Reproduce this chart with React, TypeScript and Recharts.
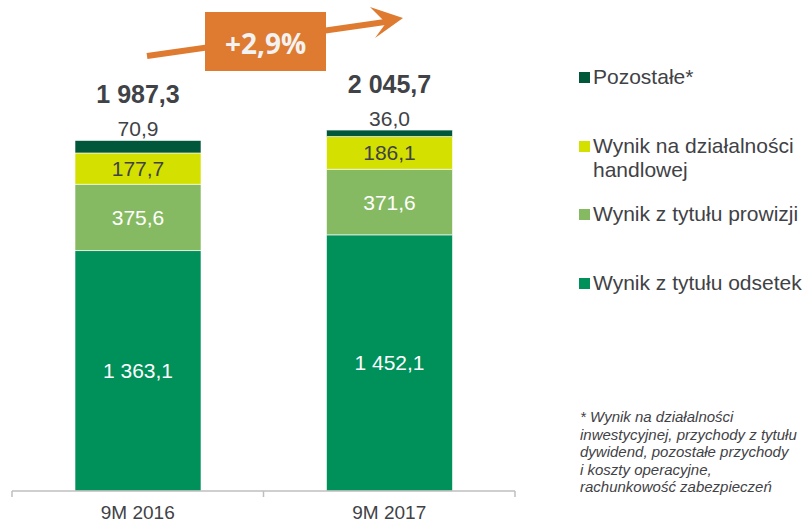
import React from "react";
import { BarChart, Bar, XAxis, YAxis, LabelList } from "recharts";

const categories = ["9M 2016", "9M 2017"];
const odsetek = [1363.1, 1452.1];
const prowizji = [375.6, 371.6];
const handlowej = [177.7, 186.1];
const pozostale = [70.9, 36.0];
const totals = [1987.3, 2045.7];
const changeLabel = "+2,9%";

const seriesNames = {
  odsetek: "Wynik z tytułu odsetek",
  prowizji: "Wynik z tytułu prowizji",
  handlowej: "Wynik na działalności handlowej",
  pozostale: "Pozostałe*",
};

const COLORS = {
  odsetek: "#00905A",
  prowizji: "#86BA62",
  handlowej: "#D4E000",
  pozostale: "#00573A",
};

const FONT = "'Liberation Sans', Arial, sans-serif";
const TEXT = "#3F4246";

const data = categories.map((c, i) => ({
  name: c,
  odsetek: odsetek[i],
  prowizji: prowizji[i],
  handlowej: handlowej[i],
  pozostale: pozostale[i],
  total: totals[i],
}));

const fmt = (v: number) => {
  const s = v.toFixed(1).replace(".", ",");
  const [intPart, dec] = s.split(",");
  const withSpaces = intPart.replace(/\B(?=(\d{3})+(?!\d))/g, " ");
  return withSpaces + "," + dec;
};

const insideLabel = (color: string) => (props: any) => {
  const { x, y, width, height, value } = props;
  return (
    <text
      x={x + width / 2}
      y={y + height / 2}
      textAnchor="middle"
      dominantBaseline="central"
      fill={color}
      fontSize={21}
      fontFamily={FONT}
    >
      {fmt(Number(value))}
    </text>
  );
};

const topLabel = (props: any) => {
  const { x, y, width, value, index } = props;
  const cx = x + width / 2;
  return (
    <g>
      <text
        x={cx}
        y={y - 12}
        textAnchor="middle"
        dominantBaseline="central"
        fill={TEXT}
        fontSize={21}
        fontFamily={FONT}
      >
        {fmt(Number(value))}
      </text>
      <text
        x={cx}
        y={y - 46}
        textAnchor="middle"
        dominantBaseline="central"
        fill={TEXT}
        fontSize={25}
        fontWeight="bold"
        fontFamily={FONT}
      >
        {fmt(totals[index])}
      </text>
    </g>
  );
};

const AxisTick = (props: any) => {
  const { x, y, payload, index } = props;
  const half = payload && payload.offset ? payload.offset : 125.75;
  const lineY = y - 8;
  return (
    <g>
      <line x1={x - half} x2={x - half} y1={lineY} y2={lineY + 6} stroke="#BFBFBF" strokeWidth={1.5} />
      {index === categories.length - 1 && (
        <line x1={x + half} x2={x + half} y1={lineY} y2={lineY + 6} stroke="#BFBFBF" strokeWidth={1.5} />
      )}
      <text
        x={x}
        y={y + 13}
        textAnchor="middle"
        dominantBaseline="central"
        fill={TEXT}
        fontSize={19}
        fontFamily={FONT}
      >
        {payload.value}
      </text>
    </g>
  );
};

const legendItems = [
  { key: "pozostale", lines: [seriesNames.pozostale], center: 77 },
  { key: "handlowej", lines: ["Wynik na działalności", "handlowej"], center: 146 },
  { key: "prowizji", lines: [seriesNames.prowizji], center: 214 },
  { key: "odsetek", lines: [seriesNames.odsetek], center: 283 },
];

export default function App() {
  return (
    <div style={{ position: "absolute", left: 0, top: 0, width: 810, height: 521, background: "#fff" }}>
      <BarChart
        width={810}
        height={521}
        data={data}
        margin={{ top: 50, right: 295, bottom: 0, left: 12 }}
        barSize={126}
      >
        <XAxis
          dataKey="name"
          axisLine={{ stroke: "#BFBFBF", strokeWidth: 1.5 }}
          tickLine={false}
          height={30}
          tick={<AxisTick />}
          interval={0}
        />
        <YAxis hide domain={[0, 2500]} />
        <Bar dataKey="odsetek" name={seriesNames.odsetek} stackId="a" fill={COLORS.odsetek} stroke="#ffffff" strokeWidth={0.6} isAnimationActive={false}>
          <LabelList dataKey="odsetek" content={insideLabel("#ffffff")} />
        </Bar>
        <Bar dataKey="prowizji" name={seriesNames.prowizji} stackId="a" fill={COLORS.prowizji} stroke="#ffffff" strokeWidth={0.6} isAnimationActive={false}>
          <LabelList dataKey="prowizji" content={insideLabel("#ffffff")} />
        </Bar>
        <Bar dataKey="handlowej" name={seriesNames.handlowej} stackId="a" fill={COLORS.handlowej} stroke="#ffffff" strokeWidth={0.6} isAnimationActive={false}>
          <LabelList dataKey="handlowej" content={insideLabel(TEXT)} />
        </Bar>
        <Bar dataKey="pozostale" name={seriesNames.pozostale} stackId="a" fill={COLORS.pozostale} stroke="#ffffff" strokeWidth={0.6} isAnimationActive={false}>
          <LabelList dataKey="pozostale" content={topLabel} />
        </Bar>
      </BarChart>

      <svg width={810} height={90} style={{ position: "absolute", left: 0, top: 0, pointerEvents: "none" }}>
        <line x1={147} y1={56} x2={392} y2={21} stroke="#DE7B30" strokeWidth={6} />
        <polygon points="403,18 370,7 386,23 375,38" fill="#DE7B30" />
        <rect x={205} y={12} width={121} height={59} fill="#DE7B30" />
        <text
          x={265.5}
          y={43}
          textAnchor="middle"
          dominantBaseline="central"
          fill="#F2F2F2"
          fontSize={28}
          fontWeight="bold"
          fontFamily="'Open Sans', 'Liberation Sans', Arial, sans-serif"
        >
          {changeLabel}
        </text>
      </svg>

      {legendItems.map((it) => (
        <div key={it.key} style={{ position: "absolute", left: 579, top: it.center - 12, fontFamily: FONT }}>
          <div
            style={{
              position: "absolute",
              left: 0,
              top: 6.5,
              width: 11,
              height: 11,
              background: (COLORS as any)[it.key],
            }}
          />
          <div
            style={{
              position: "absolute",
              left: 14,
              top: 0,
              color: TEXT,
              fontSize: 21,
              lineHeight: "24px",
              whiteSpace: "nowrap",
            }}
          >
            {it.lines.map((l, i) => (
              <div key={i}>{l}</div>
            ))}
          </div>
        </div>
      ))}

      <div
        style={{
          position: "absolute",
          left: 580,
          top: 408,
          width: 230,
          fontFamily: FONT,
          fontStyle: "italic",
          fontSize: 15,
          lineHeight: "17.5px",
          color: TEXT,
          whiteSpace: "nowrap",
        }}
      >
        <div>* Wynik na działalności</div>
        <div>inwestycyjnej, przychody z tytułu</div>
        <div>dywidend, pozostałe przychody</div>
        <div>i koszty operacyjne,</div>
        <div>rachunkowość zabezpieczeń</div>
      </div>
    </div>
  );
}
